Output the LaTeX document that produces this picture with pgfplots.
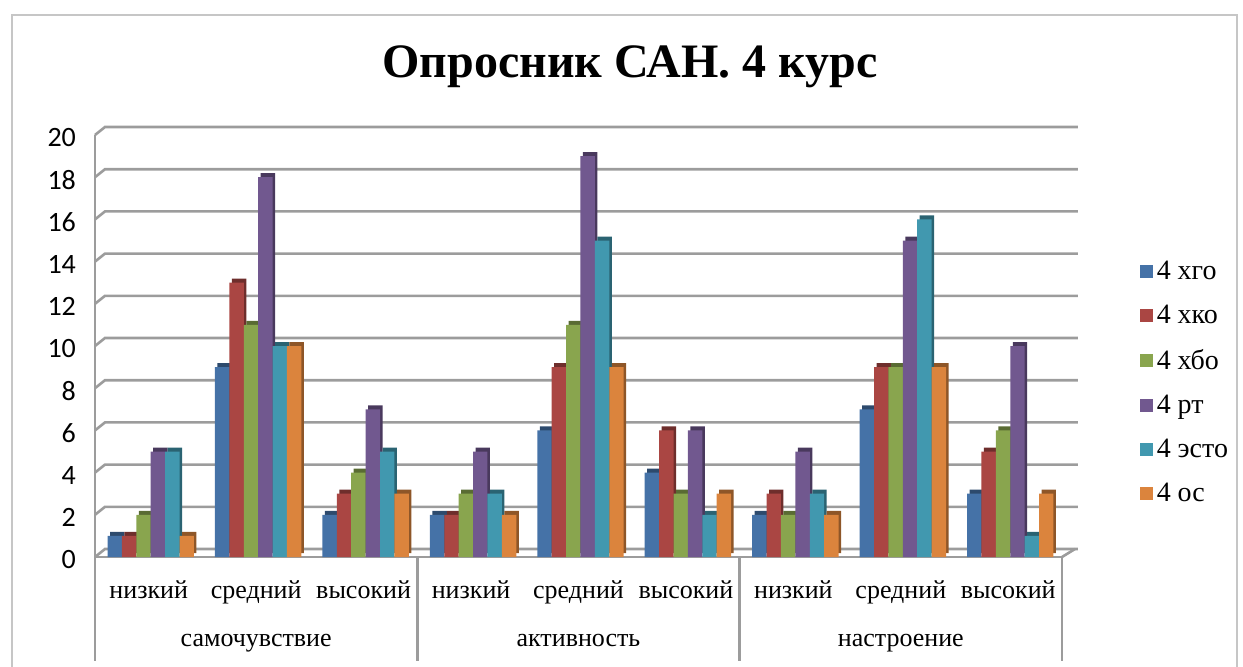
\documentclass[border=0pt]{standalone}
\usepackage{fontspec}
\setmainfont{Liberation Serif}
\newfontfamily\tickfont{Carlito}
\usepackage{pgfplots}
\usepackage{pgfplotstable}
\pgfplotsset{compat=1.18}
\definecolor{c1}{HTML}{4572A7}
\definecolor{c2}{HTML}{AA4643}
\definecolor{c3}{HTML}{89A54E}
\definecolor{c4}{HTML}{71588F}
\definecolor{c5}{HTML}{4198AF}
\definecolor{c6}{HTML}{DB843D}
\definecolor{gridc}{HTML}{9C9C9C}
\pgfplotstableread{
x a b c d e f
0 1 1 2 5 5 1
1 9 13 11 18 10 10
2 2 3 4 7 5 3
3 2 2 3 5 3 2
4 6 9 11 19 15 9
5 4 6 3 6 2 3
6 2 3 2 5 3 2
7 7 9 9 15 16 9
8 3 5 6 10 1 3
}\data
\begin{document}
\begin{tikzpicture}[x=0.5pt,y=0.5pt]
\useasboundingbox (0,0) rectangle (1243,666);
\draw[gray!45, line width=0.8pt] (12,-10) rectangle (1237,651);
\node[font=\fontsize{24}{28}\selectfont\bfseries] at (630,599) {Опросник САН. 4 курс};
\begin{axis}[
  at={(47.5pt,54.5pt)}, anchor=south west,
  scale only axis, width=483.5pt, height=211pt,
  xmin=-0.5, xmax=8.5, ymin=0, ymax=20,
  ytick={0,2,...,20},
  xtick={0,...,8},
  xticklabels={низкий,средний,высокий,низкий,средний,высокий,низкий,средний,высокий},
  x tick label style={font=\fontsize{13}{15}\selectfont, yshift=-8.5pt},
  y tick label style={font=\tickfont\fontsize{14}{16}\selectfont, xshift=-6pt, yshift=-1.5pt},
  /pgf/number format/assume math mode=true,
  major tick length=0pt,
  axis line style={gridc, line width=1.3pt},
  axis x line*=bottom, axis y line*=left,
  legend style={at={(1.08,0.712)}, anchor=north west, draw=none, fill=none,
    font=\fontsize{14}{16}\selectfont, row sep=7.3pt, inner sep=0pt,
    legend cell align=left},
  myleg/.style={legend image code/.code={\fill[##1] (0pt,-3.25pt) rectangle (6.5pt,3.25pt);}},
  clip=false,
]
\foreach \v in {0,2,...,20}{
  \edef\tmp{\noexpand\draw[gridc, line width=1.3pt] (axis cs:-0.5,\v) -- ([xshift=5pt,yshift=4pt]axis cs:-0.5,\v) -- ([xshift=8pt,yshift=4pt]axis cs:8.5,\v);}\tmp
}
\draw[gridc, line width=1.3pt] (axis cs:8.5,0) -- ([xshift=6.5pt,yshift=4pt]axis cs:8.5,0);
\addplot[ybar, forget plot, bar width=7.2pt, bar shift=-15.75pt, yshift=2pt, fill=c1!65!black, draw=none] table[x=x,y=a] {\data};
\addplot[ybar, myleg, bar width=7.2pt, bar shift=-17pt, fill=c1, draw=none] table[x=x,y=a] {\data};
\addplot[ybar, forget plot, bar width=7.2pt, bar shift=-8.55pt, yshift=2pt, fill=c2!65!black, draw=none] table[x=x,y=b] {\data};
\addplot[ybar, myleg, bar width=7.2pt, bar shift=-9.8pt, fill=c2, draw=none] table[x=x,y=b] {\data};
\addplot[ybar, forget plot, bar width=7.2pt, bar shift=-1.35pt, yshift=2pt, fill=c3!65!black, draw=none] table[x=x,y=c] {\data};
\addplot[ybar, myleg, bar width=7.2pt, bar shift=-2.6pt, fill=c3, draw=none] table[x=x,y=c] {\data};
\addplot[ybar, forget plot, bar width=7.2pt, bar shift=5.85pt, yshift=2pt, fill=c4!65!black, draw=none] table[x=x,y=d] {\data};
\addplot[ybar, myleg, bar width=7.2pt, bar shift=4.6pt, fill=c4, draw=none] table[x=x,y=d] {\data};
\addplot[ybar, forget plot, bar width=7.2pt, bar shift=13.05pt, yshift=2pt, fill=c5!65!black, draw=none] table[x=x,y=e] {\data};
\addplot[ybar, myleg, bar width=7.2pt, bar shift=11.8pt, fill=c5, draw=none] table[x=x,y=e] {\data};
\addplot[ybar, forget plot, bar width=7.2pt, bar shift=20.25pt, yshift=2pt, fill=c6!65!black, draw=none] table[x=x,y=f] {\data};
\addplot[ybar, myleg, bar width=7.2pt, bar shift=19pt, fill=c6, draw=none] table[x=x,y=f] {\data};
\legend{4 хго,4 хко,4 хбо,4 рт,4 эсто,4 ос}
\foreach \s in {-0.5,2.5,5.5,8.5}{
  \edef\tmp{\noexpand\draw[gridc, line width=1.3pt] (axis cs:\s,0) -- ([yshift=-52pt]axis cs:\s,0);}\tmp
}
\node[font=\fontsize{13}{15}\selectfont, anchor=base] at ([yshift=-44.5pt]axis cs:1,0) {самочувствие};
\node[font=\fontsize{13}{15}\selectfont, anchor=base] at ([yshift=-44.5pt]axis cs:4,0) {активность};
\node[font=\fontsize{13}{15}\selectfont, anchor=base] at ([yshift=-44.5pt]axis cs:7,0) {настроение};
\end{axis}
\end{tikzpicture}
\end{document}
